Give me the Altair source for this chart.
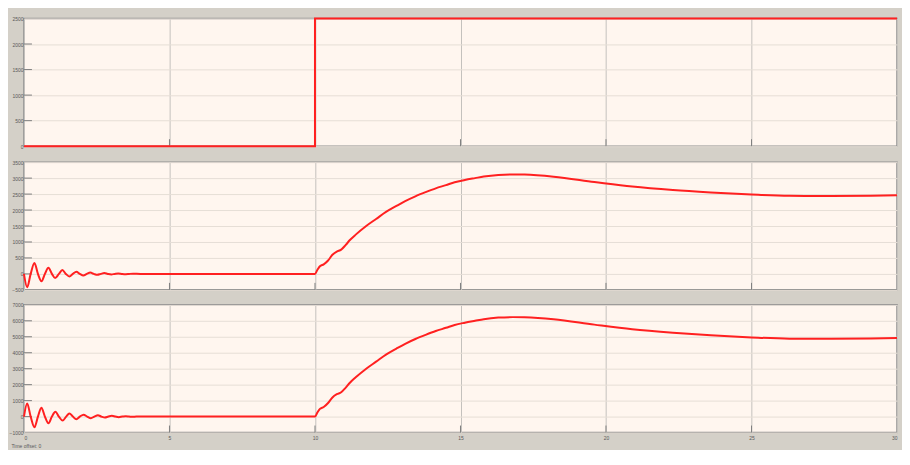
import altair as alt
import pandas as pd

# ---- data ----
t_in = [0, 10, 10, 30]
v_in = [0, 0, 2500, 2500]

t_a = [0, 0.11, 0.23, 0.36, 0.48, 0.6, 0.72, 0.84, 0.96, 1.07, 1.2, 1.32, 1.44, 1.56, 1.68,
       1.8, 1.92, 2.04, 2.16, 2.28, 2.4, 2.52, 2.64, 2.76, 2.88, 3.0, 3.12, 3.24, 3.36, 3.5,
       3.62, 3.75, 4.0, 10.0, 10.08, 10.17, 10.3, 10.45, 10.6, 10.75, 10.9, 11.05, 11.2, 11.4,
       11.76, 12.1, 12.44, 12.8, 13.1, 13.45, 13.8, 14.15, 14.5, 14.8, 15.15, 15.5, 15.8, 16.3,
       16.8, 17.2, 18.2, 19.6, 20.9, 22.3, 23.6, 25.0, 26.3, 27.7, 29.1, 30.0]
v_a = [0, -420, 0, 340, 0, -230, 0, 190, 0, -130, 0, 120, 0, -80, 0,
       70, 0, -50, 0, 40, 0, -30, 0, 25, 0, -15, 0, 12, 0, -8,
       0, 5, 0, 0, 120, 240, 300, 420, 600, 700, 760, 900, 1060, 1230,
       1500, 1720, 1940, 2130, 2280, 2430, 2560, 2680, 2780, 2870, 2940, 3000, 3050, 3100,
       3115, 3110, 3045, 2880, 2735, 2625, 2550, 2485, 2445, 2440, 2450, 2465]

t_b = [0, 0.11, 0.23, 0.36, 0.48, 0.6, 0.72, 0.84, 0.96, 1.08, 1.2, 1.33, 1.45, 1.56, 1.68,
       1.8, 1.92, 2.05, 2.17, 2.3, 2.42, 2.54, 2.66, 2.78, 2.9, 3.02, 3.14, 3.26, 3.38, 3.5,
       3.62, 3.74, 3.86, 10.0, 10.08, 10.17, 10.3, 10.45, 10.6, 10.75, 10.9, 11.05, 11.2, 11.4,
       11.76, 12.1, 12.44, 12.8, 13.1, 13.45, 13.8, 14.15, 14.5, 14.8, 15.15, 15.5, 15.8, 16.3,
       16.8, 17.2, 18.2, 19.6, 20.9, 22.3, 23.6, 25.0, 26.3, 27.7, 29.1, 30.0]
v_b = [0, 820, 0, -670, 0, 550, 0, -420, 0, 300, 0, -250, 0, 200, 0,
       -170, 0, 120, 0, -100, 0, 80, 0, -60, 0, 45, 0, -35, 0, 25,
       0, -15, 0, 0, 250, 480, 600, 850, 1200, 1400, 1520, 1800, 2120, 2460,
       3000, 3440, 3880, 4260, 4560, 4860, 5120, 5360, 5560, 5740, 5880, 6000, 6100, 6200,
       6230, 6220, 6100, 5760, 5470, 5250, 5090, 4960, 4880, 4870, 4890, 4920]

x_ticks = [0, 5, 10, 15, 20, 25, 30]
y_ticks_1 = [0, 500, 1000, 1500, 2000, 2500]
y_ticks_2 = [-500, 0, 500, 1000, 1500, 2000, 2500, 3000, 3500]
y_ticks_3 = [-1000, 0, 1000, 2000, 3000, 4000, 5000, 6000, 7000]

W = 875
H = 128
RED = "#ff2020"
LBL = "#5a5a5a"


def panel(t, v, ydom, yticks, interp, bottom):
    df = pd.DataFrame({"t": t, "v": v, "i": list(range(len(t)))})
    if bottom:
        xaxis = alt.Axis(values=x_ticks, labels=True, grid=True, gridColor="#c4c1bd",
                         ticks=False, domain=False, labelFontSize=5, labelColor=LBL,
                         labelPadding=3, labelFlush=True, format="d",
                         title="Time offset:  0",
                         titleFontSize=5, titleFontWeight="normal", titleColor=LBL,
                         titleX=-13, titleY=11, titleAlign="left", titleBaseline="top")
    else:
        xaxis = alt.Axis(values=x_ticks, labels=False, grid=True, gridColor="#c4c1bd",
                         ticks=False, domain=False, title=None)
    yaxis = alt.Axis(values=yticks, grid=True, gridColor="#e6ded6", ticks=False,
                     domain=False, labelFontSize=5, labelColor=LBL, labelPadding=1,
                     format="d", title=None)
    xs = alt.Scale(domain=[0, 30], nice=False)
    ys = alt.Scale(domain=ydom, nice=False, zero=False)

    line = alt.Chart(df).mark_line(color=RED, strokeWidth=2, interpolate=interp).encode(
        x=alt.X("t:Q", scale=xs, axis=xaxis),
        y=alt.Y("v:Q", scale=ys, axis=yaxis),
        order="i:Q",
    )
    inner_y = pd.DataFrame({"v": yticks[1:-1]})
    ytk = alt.Chart(inner_y).mark_rule(color="#808080", strokeWidth=1).encode(
        y=alt.Y("v:Q", scale=ys, axis=yaxis), x=alt.value(0), x2=alt.value(8))
    inner_x = pd.DataFrame({"t": x_ticks[1:-1]})
    xtk = alt.Chart(inner_x).mark_rule(color="#808080", strokeWidth=1).encode(
        x=alt.X("t:Q", scale=xs, axis=xaxis), y=alt.value(H - 7), y2=alt.value(H))
    return alt.layer(xtk, ytk, line).properties(width=W, height=H)


p1 = panel(t_in, v_in, [0, 2500], y_ticks_1, "linear", False)
p2 = panel(t_a, v_a, [-500, 3500], y_ticks_2, "monotone", False)
p3 = panel(t_b, v_b, [-1000, 7000], y_ticks_3, "monotone", True)

chart = alt.vconcat(p1, p2, p3, spacing=8).properties(
    background="#d4d0c8",
    padding={"left": 0, "top": 5, "right": 0, "bottom": 0},
).configure(font="Liberation Sans").configure_view(
    fill="#fff6ef", stroke="#8e8e8e", strokeWidth=1.5
)

chart.save("out.html", embed_options={"renderer": "svg", "actions": False})
